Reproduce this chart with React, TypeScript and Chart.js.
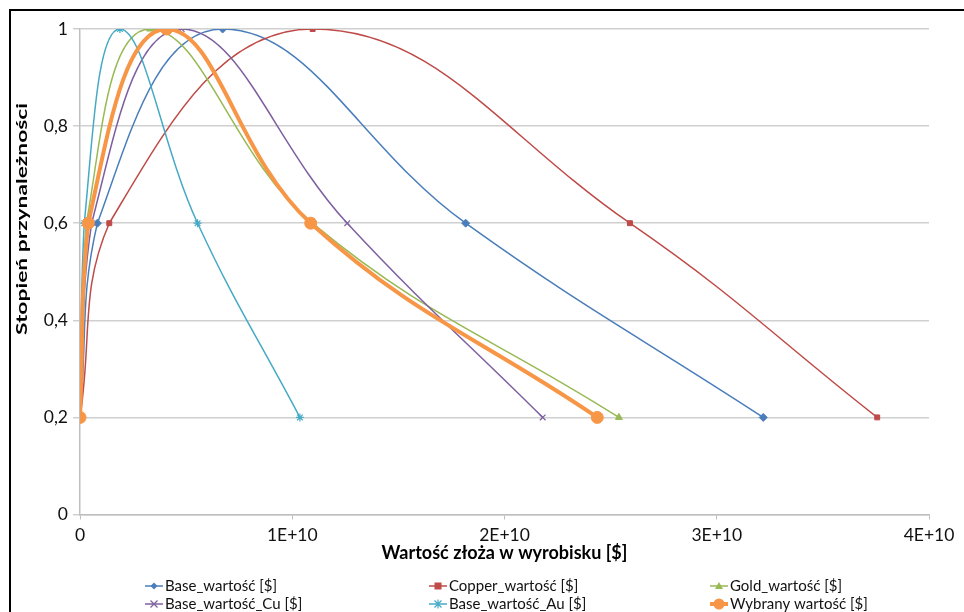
import React, { useEffect, useRef } from 'react';
import { Chart, registerables } from 'chart.js';

Chart.register(...registerables);

// ---- data ----
const seriesNames = [
  'Base_wartość [$]',
  'Copper_wartość [$]',
  'Gold_wartość [$]',
  'Base_wartość_Cu [$]',
  'Base_wartość_Au [$]',
  'Wybrany wartość [$]',
];
const membership = [0.2, 0.6, 1, 0.6, 0.2];
const baseX = [0, 0.82e9, 6.72e9, 18.17e9, 32.19e9];
const copperX = [0, 1.38e9, 10.96e9, 25.91e9, 37.56e9];
const goldX = [0, 0.3e9, 3.3e9, 10.95e9, 25.39e9];
const baseCuX = [0, 0.55e9, 4.79e9, 12.59e9, 21.8e9];
const baseAuX = [0, 0.2e9, 1.88e9, 5.54e9, 10.36e9];
const chosenX = [0, 0.39e9, 4.08e9, 10.87e9, 24.37e9];
const xTickValues = [0, 1e10, 2e10, 3e10, 4e10];
const yTickValues = [0, 0.2, 0.4, 0.6, 0.8, 1];

const seriesX = [baseX, copperX, goldX, baseCuX, baseAuX, chosenX];
const colors = ['#4a7ebb', '#be4b48', '#98b954', '#7d60a0', '#46aac5', '#f79646'];
const shapes = ['diamond', 'square', 'triangle', 'x', 'star', 'circle'];
const chartStyles = ['rectRot', 'rect', 'triangle', 'crossRot', 'star', 'circle'];

const FONT = 'Lato, "Open Sans", sans-serif';

function drawMarker(ctx: CanvasRenderingContext2D, shape: string, x: number, y: number, color: string) {
  ctx.save();
  ctx.fillStyle = color;
  ctx.strokeStyle = color;
  ctx.lineWidth = 1.2;
  ctx.beginPath();
  if (shape === 'diamond') {
    const r = 3.5;
    ctx.moveTo(x, y - r); ctx.lineTo(x + r, y); ctx.lineTo(x, y + r); ctx.lineTo(x - r, y); ctx.closePath(); ctx.fill();
  } else if (shape === 'square') {
    ctx.rect(x - 3.5, y - 3.5, 7, 7); ctx.fill();
  } else if (shape === 'triangle') {
    ctx.moveTo(x, y - 4); ctx.lineTo(x + 4, y + 3); ctx.lineTo(x - 4, y + 3); ctx.closePath(); ctx.fill();
  } else if (shape === 'x') {
    const r = 3.5;
    ctx.moveTo(x - r, y - r); ctx.lineTo(x + r, y + r); ctx.moveTo(x + r, y - r); ctx.lineTo(x - r, y + r); ctx.stroke();
  } else if (shape === 'star') {
    const r = 3.5;
    ctx.moveTo(x - r, y - r); ctx.lineTo(x + r, y + r); ctx.moveTo(x + r, y - r); ctx.lineTo(x - r, y + r);
    ctx.moveTo(x, y - r - 1); ctx.lineTo(x, y + r + 1); ctx.stroke();
  } else {
    ctx.arc(x, y, 5.5, 0, Math.PI * 2); ctx.fill();
  }
  ctx.restore();
}

const legendPos = [
  [145, 586], [429, 586], [710, 586],
  [145, 604], [429, 604], [710, 604],
];

const customPlugin = {
  id: 'customDecor',
  afterDraw(chart: any) {
    const ctx: CanvasRenderingContext2D = chart.ctx;
    // y-axis title
    ctx.save();
    ctx.font = `bold 16px ${FONT}`;
    const t = 'Stopień przynależności';
    const w = ctx.measureText(t).width;
    ctx.translate(21.5, 219);
    ctx.rotate(-Math.PI / 2);
    ctx.scale(232 / w, 1);
    ctx.fillStyle = '#000';
    ctx.textAlign = 'center';
    ctx.textBaseline = 'middle';
    ctx.fillText(t, 0, 0);
    ctx.restore();

    // legend
    seriesNames.forEach((name, i) => {
      const [lx, ly] = legendPos[i];
      ctx.save();
      ctx.strokeStyle = colors[i];
      ctx.lineWidth = i === 5 ? 4 : 1.5;
      ctx.beginPath();
      ctx.moveTo(lx, ly);
      ctx.lineTo(lx + 18, ly);
      ctx.stroke();
      ctx.restore();
      drawMarker(ctx, shapes[i], lx + 9, ly, colors[i]);
      ctx.save();
      ctx.font = `15px ${FONT}`;
      ctx.fillStyle = '#111';
      ctx.textAlign = 'left';
      ctx.textBaseline = 'middle';
      ctx.fillText(name, lx + 20, ly + 0.5);
      ctx.restore();
    });
  },
};

export default function App() {
  const ref = useRef<HTMLCanvasElement>(null);

  useEffect(() => {
    if (!ref.current) return;
    const datasets = seriesNames.map((name, i) => ({
      label: name,
      data: seriesX[i].map((x, j) => ({ x, y: membership[j] })),
      borderColor: colors[i],
      backgroundColor: colors[i],
      borderWidth: i === 5 ? 4 : 1.5,
      pointStyle: chartStyles[i],
      pointRadius: i === 5 ? 6 : i === 1 ? 3.5 : 4,
      pointBorderWidth: i === 3 || i === 4 ? 1.2 : 1,
      tension: 0.42,
      showLine: true,
      fill: false,
      order: 6 - i,
    }));

    const chart = new Chart(ref.current, {
      type: 'scatter',
      data: { datasets },
      options: {
        animation: false,
        responsive: false,
        devicePixelRatio: 1,
        layout: { padding: { left: 0, right: 35, top: 29, bottom: 45 } },
        plugins: {
          legend: { display: false },
          tooltip: { enabled: false },
        },
        scales: {
          x: {
            type: 'linear',
            min: 0,
            max: 4e10,
            afterBuildTicks: (scale: any) => {
              scale.ticks = xTickValues.map((v) => ({ value: v }));
            },
            afterFit: (scale: any) => {
              scale.height = 52.5;
            },
            ticks: {
              color: '#111',
              font: { family: FONT, size: 17.5 },
              padding: 5,
              maxRotation: 0,
              callback: (v: any) => (v === 0 ? '0' : `${Math.round(v / 1e10)}E+10`),
            },
            grid: {
              drawOnChartArea: false,
              drawTicks: true,
              tickLength: 5,
              tickColor: '#bfbfbf',
              color: '#bfbfbf',
            },
            border: { color: '#bfbfbf', width: 1.5 },
            title: {
              display: true,
              text: 'Wartość złoża w wyrobisku [$]',
              color: '#000',
              font: { family: FONT, size: 18, weight: 'bold' },
              padding: { top: 2, bottom: 3 },
            },
          },
          y: {
            type: 'linear',
            min: 0,
            max: 1,
            afterBuildTicks: (scale: any) => {
              scale.ticks = yTickValues.map((v) => ({ value: v }));
            },
            afterFit: (scale: any) => {
              scale.width = 80;
            },
            ticks: {
              color: '#111',
              font: { family: FONT, size: 17.5 },
              padding: 5,
              callback: (v: any) => String(Math.round(v * 10) / 10).replace('.', ','),
            },
            grid: {
              color: '#d0d0d0',
              lineWidth: 1.5,
              tickLength: 7,
              tickColor: '#d0d0d0',
            },
            border: { color: '#bfbfbf', width: 1.5 },
            title: { display: false },
          },
        },
      },
      plugins: [customPlugin],
    } as any);
    return () => chart.destroy();
  }, []);

  return (
    <div style={{ position: 'fixed', left: 0, top: 0, width: 964, height: 612, background: '#fff', overflow: 'hidden' }}>
      <canvas ref={ref} width={964} height={612} style={{ position: 'absolute', left: 0, top: 0, width: 964, height: 612 }} />
      <div
        style={{
          position: 'absolute',
          left: 9,
          top: 9,
          width: 1000,
          height: 700,
          borderTop: '2px solid #000',
          borderLeft: '2px solid #000',
          pointerEvents: 'none',
        }}
      />
    </div>
  );
}
